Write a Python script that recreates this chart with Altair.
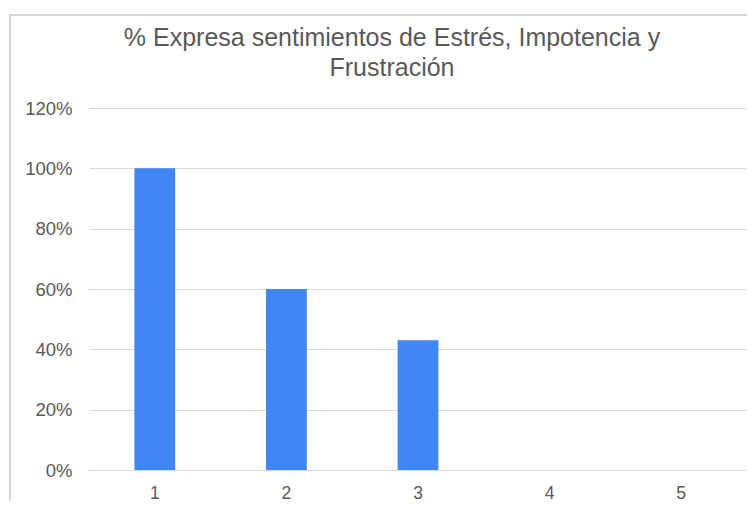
import altair as alt
import pandas as pd

categories = ["1", "2", "3", "4", "5"]
values = [1.00, 0.60, 0.43, 0.00, 0.00]
y_ticks = [0, 0.2, 0.4, 0.6, 0.8, 1.0, 1.2]

df = pd.DataFrame({"cat": categories, "val": values})

TEXT = "#595959"
GRID = "#d9d9d9"
FRAME = "#d4d4d4"
FONT = "Liberation Sans"

bars = alt.Chart(df).mark_bar(color="#4285F4").encode(
    x=alt.X("cat:N", sort=categories,
            scale=alt.Scale(paddingInner=0.69, paddingOuter=0.345),
            axis=alt.Axis(title=None, labelAngle=0, ticks=False, domain=False,
                          labelFontSize=17.5, labelColor=TEXT, labelFont=FONT,
                          labelPadding=14)),
    y=alt.Y("val:Q", scale=alt.Scale(domain=[0, 1.2], nice=False),
            axis=alt.Axis(title=None, values=y_ticks, format=".0%",
                          ticks=False, domain=False, gridColor=GRID, gridWidth=1,
                          labelFontSize=18.5, labelColor=TEXT, labelFont=FONT,
                          labelPadding=17)),
)

frame = alt.Chart(df).mark_rect(filled=False, stroke=FRAME, strokeWidth=2).encode(
    x=alt.value(-79), x2=alt.value(720), y=alt.value(-93), y2=alt.value(420)
)

chart = alt.layer(frame, bars).properties(
    width=658,
    height=362,
    autosize=alt.AutoSizeParams(type="none"),
    padding={"left": 81, "top": 100, "right": 0, "bottom": 31},
    title=alt.TitleParams(
        text=["% Expresa sentimientos de Estrés, Impotencia y", "Frustración"],
        fontSize=25, font=FONT, fontWeight="normal", color=TEXT,
        anchor="middle", frame="group", dx=-26, dy=67, offset=0, lineHeight=30,
    ),
).configure_view(stroke=None)

chart.save("out.html", embed_options={"renderer": "svg", "actions": False})
